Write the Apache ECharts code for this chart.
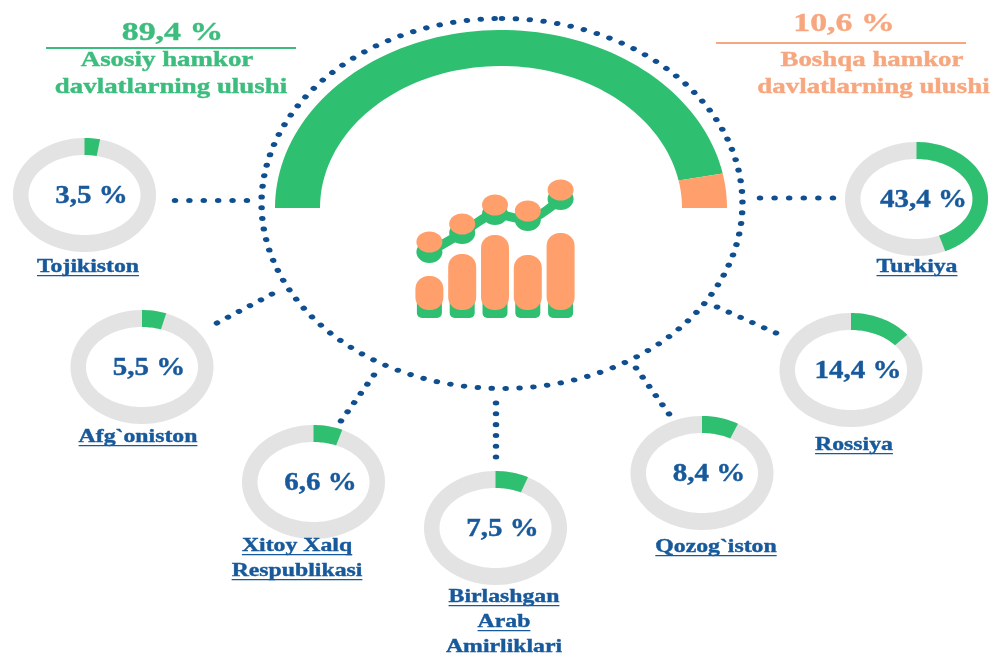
<!DOCTYPE html>
<html>
<head>
<meta charset="UTF-8">
<title>Hamkor davlatlar ulushi</title>
<style>
html, body { margin: 0; padding: 0; background: #fff; }
#main { width: 990px; height: 655px; }
</style>
<script src="https://cdn.jsdelivr.net/npm/echarts@6/dist/echarts.min.js"></script>
</head>
<body>
<div id="main"></div>
<script>
// donut charts
var countries = ['Tojikiston', 'Afg`oniston', 'Xitoy Xalq\nRespublikasi', 'Birlashgan\nArab\nAmirliklari', 'Qozog`iston', 'Rossiya', 'Turkiya'];
var countryShares = [3.5, 5.5, 6.6, 7.5, 8.4, 14.4, 43.4];

// header figures
var groupNames = ['Asosiy hamkor\ndavlatlarning ulushi', 'Boshqa hamkor\ndavlatlarning ulushi'];
var groupShares = [89.4, 10.6];
// big arc split as it is drawn in the picture (orange part is narrower than its label says)
var arcDrawn = [93.8, 6.2];

// small icon in the middle
var iconCats = ['a', 'b', 'c', 'd', 'e'];
var iconGreenBars = [40, 62, 81, 61, 83];
var iconOrangeBase = [8, 8, 8, 8, 8];
var iconOrangeBars = [34, 56, 75, 55, 77];
var iconGreenLine = [66, 85, 104, 98, 119];
var iconOrangeDots = [76, 94, 113, 107, 128];

// layout, same order as countries
var donutCenters = [[84.5, 195], [142, 367], [313.5, 482], [495.5, 528], [702, 473], [851, 370], [916.5, 199]];
var labelPos = [[88, 267], [138, 437], [297, 546], [504, 597], [716, 547], [854, 445], [917, 267]];
var connectors = [
    [[175, 200.5], [247, 200.5]],
    [[217, 323], [272, 294]],
    [[341, 421], [374, 375]],
    [[496, 457], [496, 403]],
    [[669, 414], [636, 368]],
    [[776, 333], [717, 307]],
    [[760, 198], [833, 198]]
];

var GREEN = '#2fbf71';
var ORANGE = '#ff9f6b';
var GREY = '#e3e3e3';
var BLUE = '#17599b';
var DOT = '#0f4f8f';
var FONT = '"Liberation Serif", "Times New Roman", serif';
var STRETCH = 1.3; // dots are wider than tall in the picture

// ring piece on an ellipse, angles in degrees clockwise from the top
function ringPoints(cx, cy, rx, ry, rx0, ry0, from, to) {
    var pts = [];
    var steps = Math.max(2, Math.ceil(Math.abs(to - from) / 2));
    var i, t;
    for (i = 0; i <= steps; i++) {
        t = (from + (to - from) * i / steps) * Math.PI / 180;
        pts.push([cx + rx * Math.sin(t), cy - ry * Math.cos(t)]);
    }
    for (i = steps; i >= 0; i--) {
        t = (from + (to - from) * i / steps) * Math.PI / 180;
        pts.push([cx + rx0 * Math.sin(t), cy - ry0 * Math.cos(t)]);
    }
    return pts;
}

// stretched text, the picture is wider than it is tall
function stretchedText(text, x, y, size, scale, color, underline) {
    var font = 'bold ' + size + 'px ' + FONT;
    var kids = [{
        type: 'text',
        style: {
            text: text, x: 0, y: 0, font: font, fill: color, stroke: color, lineWidth: 0.4,
            textAlign: 'center', textVerticalAlign: 'middle'
        }
    }];
    if (underline) {
        var w = echarts.format.getTextRect(text, font).width;
        kids.push({
            type: 'rect',
            shape: { x: -w / 2, y: size * 0.42, width: w, height: 1.3 },
            style: { fill: color }
        });
    }
    return { type: 'group', x: x, y: y, scaleX: scale, children: kids };
}

function renderDonut(params, api) {
    var i = params.dataIndex;
    var c = donutCenters[i];
    var value = api.value(0);
    var kids = [
        { type: 'polygon', shape: { points: ringPoints(c[0], c[1], 71.5, 57, 56, 40, 0, 360) }, style: { fill: GREY } },
        { type: 'polygon', shape: { points: ringPoints(c[0], c[1], 71.5, 57, 56, 40, 0, value * 3.6) }, style: { fill: GREEN } },
        stretchedText(value.toFixed(1).replace('.', ',') + ' %', c[0] + 7, c[1] + 2, 25, 1.16, BLUE)
    ];
    countries[i].split('\n').forEach(function (line, n) {
        kids.push(stretchedText(line, labelPos[i][0], labelPos[i][1] + n * 25, 19, 1.25, BLUE, true));
    });
    return { type: 'group', children: kids };
}

function renderArc(params, api) {
    var start = -90;
    for (var k = 0; k < params.dataIndex; k++) {
        start += arcDrawn[k] * 1.8;
    }
    var end = start + api.value(0) * 1.8;
    return {
        type: 'polygon',
        shape: { points: ringPoints(501, 208, 226, 178, 181, 142, start, end) },
        style: { fill: params.dataIndex === 0 ? GREEN : ORANGE }
    };
}

function renderHeader(params, api) {
    var i = params.dataIndex;
    var color = ['#3dbd7d', '#f7a77f'][i];
    var lines = groupNames[i].split('\n');
    return {
        type: 'group',
        children: [
            stretchedText(api.value(0).toFixed(1).replace('.', ',') + ' %', [172.5, 844][i], [33, 24][i], 26, 1.3, color),
            { type: 'rect', shape: { x: [46, 716][i], y: [47, 42][i], width: 250, height: 2 }, style: { fill: color } },
            stretchedText(lines[0], [167, 872][i], 61, 21, 1.28, color),
            stretchedText(lines[1], [171, 873.5][i], 88, 21, 1.28, color)
        ]
    };
}

function renderDots() {
    var kids = [];
    var ring = [];
    for (var a = 0; a <= 360; a += 2) {
        var t = a * Math.PI / 180;
        ring.push([185 * Math.sin(t), -185 * Math.cos(t)]);
    }
    kids.push({
        type: 'group', x: 502, y: 203.5, scaleX: STRETCH,
        children: [{
            type: 'polyline',
            shape: { points: ring },
            style: { fill: null, stroke: DOT, lineWidth: 5, lineCap: 'round', lineDash: [0.01, 10.7] }
        }]
    });
    connectors.forEach(function (pts) {
        var local = [[pts[0][0] / STRETCH, pts[0][1]], [pts[1][0] / STRETCH, pts[1][1]]];
        var len = Math.sqrt(Math.pow(local[1][0] - local[0][0], 2) + Math.pow(local[1][1] - local[0][1], 2));
        kids.push({
            type: 'group', scaleX: STRETCH,
            children: [{
                type: 'polyline',
                shape: { points: local },
                style: { fill: null, stroke: DOT, lineWidth: 5, lineCap: 'round', lineDash: [0.01, len / 5 - 0.02] }
            }]
        });
    });
    return { type: 'group', children: kids };
}

var chart = echarts.init(document.getElementById('main'));
chart.setOption({
    animation: false,
    backgroundColor: '#fff',
    grid: { left: 413, top: 170, width: 164, height: 148 },
    xAxis: [
        { type: 'category', data: iconCats, show: false },
        { type: 'category', data: iconCats, show: false }
    ],
    yAxis: { type: 'value', min: 0, max: 148, show: false },
    series: [
        { type: 'custom', coordinateSystem: 'none', renderItem: renderDots, data: [0], silent: true },
        { type: 'custom', coordinateSystem: 'none', renderItem: renderArc, data: arcDrawn, silent: true },
        { type: 'custom', coordinateSystem: 'none', renderItem: renderHeader, data: groupShares, silent: true },
        { type: 'custom', coordinateSystem: 'none', renderItem: renderDonut, data: countryShares, silent: true },
        {
            type: 'bar', xAxisIndex: 0, data: iconGreenBars, barWidth: 25, z: 2, silent: true,
            itemStyle: { color: GREEN, borderRadius: [12, 12, 5, 5] }
        },
        {
            type: 'bar', xAxisIndex: 1, stack: 'icon', data: iconOrangeBase, barWidth: 28, z: 3, silent: true,
            itemStyle: { color: 'transparent' }
        },
        {
            type: 'bar', xAxisIndex: 1, stack: 'icon', data: iconOrangeBars, barWidth: 28, z: 3, silent: true,
            itemStyle: { color: ORANGE, borderRadius: 13 }
        },
        {
            type: 'line', xAxisIndex: 0, data: iconGreenLine, z: 4, silent: true, smooth: 0.25,
            symbol: 'circle', symbolSize: [26, 22], showSymbol: true,
            lineStyle: { color: GREEN, width: 9 }, itemStyle: { color: GREEN }
        },
        {
            type: 'scatter', xAxisIndex: 0, data: iconOrangeDots, z: 5, silent: true,
            symbol: 'circle', symbolSize: [26, 21], itemStyle: { color: ORANGE, opacity: 1 }
        }
    ]
});
</script>
</body>
</html>
